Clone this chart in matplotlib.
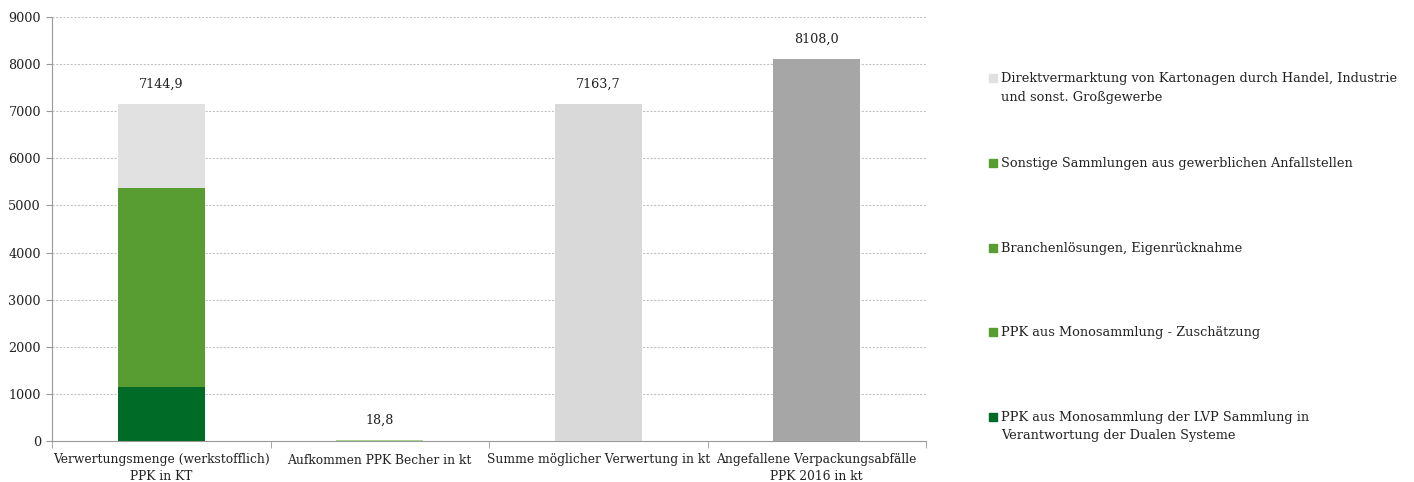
import matplotlib
matplotlib.use("Agg")
import matplotlib.pyplot as plt
from matplotlib.patches import Rectangle

plt.rcParams['font.family'] = ['DejaVu Serif']

categories = ["Verwertungsmenge (werkstofflich)\nPPK in KT",
              "Aufkommen PPK Becher in kt",
              "Summe möglicher Verwertung in kt",
              "Angefallene Verpackungsabfälle\nPPK 2016 in kt"]

# stacked segments of bar 1 (bottom to top)
seg_names = ["PPK aus Monosammlung der LVP Sammlung in\nVerantwortung der Dualen Systeme",
             "PPK aus Monosammlung - Zuschätzung",
             "Branchenlösungen, Eigenrücknahme",
             "Sonstige Sammlungen aus gewerblichen Anfallstellen",
             "Direktvermarktung von Kartonagen durch Handel, Industrie\nund sonst. Großgewerbe"]
seg_values = [1146.0, 420.0, 640.0, 3165.0, 1773.9]
seg_colors = ["#006a27", "#589d31", "#589d31", "#589d31", "#e1e1e1"]

other_values = [18.8, 7163.7, 8108.0]
other_colors = ["#a9d08e", "#d9d9d9", "#a6a6a6"]

labels = ["7144,9", "18,8", "7163,7", "8108,0"]

W, H = 1414, 482
fig = plt.figure(figsize=(W / 100, H / 100), dpi=100)
ax = fig.add_axes([52 / W, 1 - 441 / H, (926 - 52) / W, (441 - 17) / H])

x = list(range(4))
bw = 0.4
bottom = 0.0
for v, c in zip(seg_values, seg_colors):
    ax.bar(x[0], v, bw, bottom=bottom, color=c, zorder=3, linewidth=0)
    bottom += v
for i, (v, c) in enumerate(zip(other_values, other_colors)):
    ax.bar(x[i + 1], v, bw, color=c, zorder=3, linewidth=0)

totals = [bottom] + other_values
for i, (t, lab) in enumerate(zip(totals, labels)):
    ax.annotate(lab, (x[i], t), xytext=(0, 9.5), textcoords="offset points",
                ha="center", va="bottom", fontsize=9.2, color="#222222")

ax.set_xlim(-0.5, 3.5)
ax.set_ylim(0, 9000)
ax.set_yticks(range(0, 9001, 1000))
ax.yaxis.grid(True, linestyle=(0, (2, 1.5)), color="#c0c0c0", linewidth=0.75, zorder=0)
ax.set_xticks(x)
ax.set_xticklabels(categories, fontsize=8.8, color="#222222", linespacing=1.3)
ax.tick_params(axis="x", length=0, pad=9)
ax.tick_params(axis="y", length=4, color="#999999", labelsize=9.2, labelcolor="#222222", pad=4)
ax.set_xticks([-0.5, 0.5, 1.5, 2.5, 3.5], minor=True)
ax.tick_params(axis="x", which="minor", length=5, color="#999999", direction="out")
for s in ["top", "right"]:
    ax.spines[s].set_visible(False)
for s in ["left", "bottom"]:
    ax.spines[s].set_color("#999999")

# legend (top to bottom = reverse of stack order)
leg_y = [78, 163, 248, 332, 417]
for yy, name, c in zip(leg_y, seg_names[::-1], seg_colors[::-1]):
    sq = 8
    fig.patches.append(Rectangle((989 / W, 1 - (yy + sq / 2) / H), sq / W, sq / H,
                                 transform=fig.transFigure, color=c, figure=fig))
    fig.text(1001 / W, 1 - (yy - 6) / H, name, fontsize=9.3, color="#222222",
             va="top", ha="left", linespacing=1.55)

fig.savefig("out.png", dpi=100)
